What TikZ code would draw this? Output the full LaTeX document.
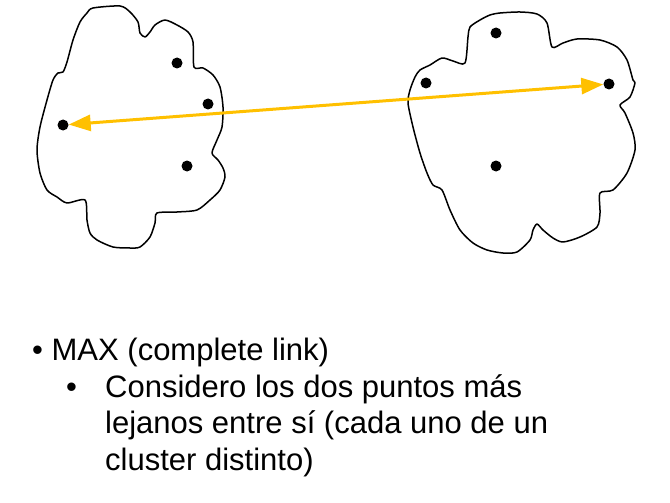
\documentclass[tikz,border=0pt]{standalone}
\usepackage{fontspec}
\setmainfont{Liberation Sans}
\usetikzlibrary{arrows.meta}
\definecolor{linkyellow}{HTML}{FFC000}
\begin{document}
\begin{tikzpicture}[x=1pt,y=-1pt,
  dot/.style={circle,fill=black,inner sep=0pt,minimum size=11pt},
  cloud/.style={draw=black,line width=1.5pt,line join=round},
  link/.style={draw=linkyellow,line width=3pt,{Triangle[length=22pt,width=16pt]}-{Triangle[length=22pt,width=16pt]}},
  txt/.style={anchor=base west,inner sep=0pt,font=\fontsize{31}{37}\selectfont}]
\useasboundingbox (0,0) rectangle (670,503);
% left cluster
\draw[cloud] plot[smooth cycle,tension=0.45] coordinates {
 (93,8) (120,6) (130,12) (138,22) (140,33) (145,37) (150,32) (155,25) (165,20)
 (177,25) (188,32) (193,42) (194,67) (203,68) (213,75) (220,87) (223,107)
 (222,127) (217,140) (212,153) (218,160) (223,168) (225,177) (220,190)
 (210,200) (197,210) (177,212) (157,213) (155,223) (150,237) (140,247)
 (130,248) (113,247) (97,240) (90,233) (87,220) (85,200) (67,203) (57,197)
 (47,190) (40,173) (37,150) (40,127) (47,100) (53,80) (58,73) (63,72)
 (67,62) (73,40) (80,22) (87,13)};
% right cluster
\draw[cloud] plot[smooth cycle,tension=0.45] coordinates {
 (500,13) (520,12) (537,14) (547,23) (552,47) (563,43) (577,39) (600,40)
 (617,47) (627,60) (633,80) (635,83) (630,97) (620,105) (625,113) (633,133)
 (635,150) (627,173) (613,190) (600,193) (600,213) (597,227) (580,237)
 (563,242) (553,238) (543,230) (537,224) (533,230) (530,240) (517,252)
 (503,253) (487,250) (473,243) (460,230) (450,210) (442,190) (433,185)
 (427,173) (420,153) (413,127) (408,103) (410,90) (415,77) (420,70)
 (430,65) (442,58) (453,61) (465,63) (468,37) (470,27) (480,20) (490,15)};
% points
\node[dot] (l1) at (177,63) {};
\node[dot] (l2) at (208,104) {};
\node[dot] (l3) at (63,125) {};
\node[dot] (l4) at (187,166) {};
\node[dot] (r1) at (496,33) {};
\node[dot] (r2) at (426,83) {};
\node[dot] (r3) at (609,84) {};
\node[dot] (r4) at (496,166) {};
\draw[link] (l3) -- (r3);
% text
\node[txt] (t1) at (32,360) {• MAX (complete link)};
\node[txt] (b2) at (66,397) {•};
\node[txt] (t2) at (105,397) {Considero los dos puntos más};
\node[txt] (t3) at (105,433) {lejanos entre sí (cada uno de un};
\node[txt] (t4) at (105,470) {cluster distinto)};
\end{tikzpicture}
\end{document}
